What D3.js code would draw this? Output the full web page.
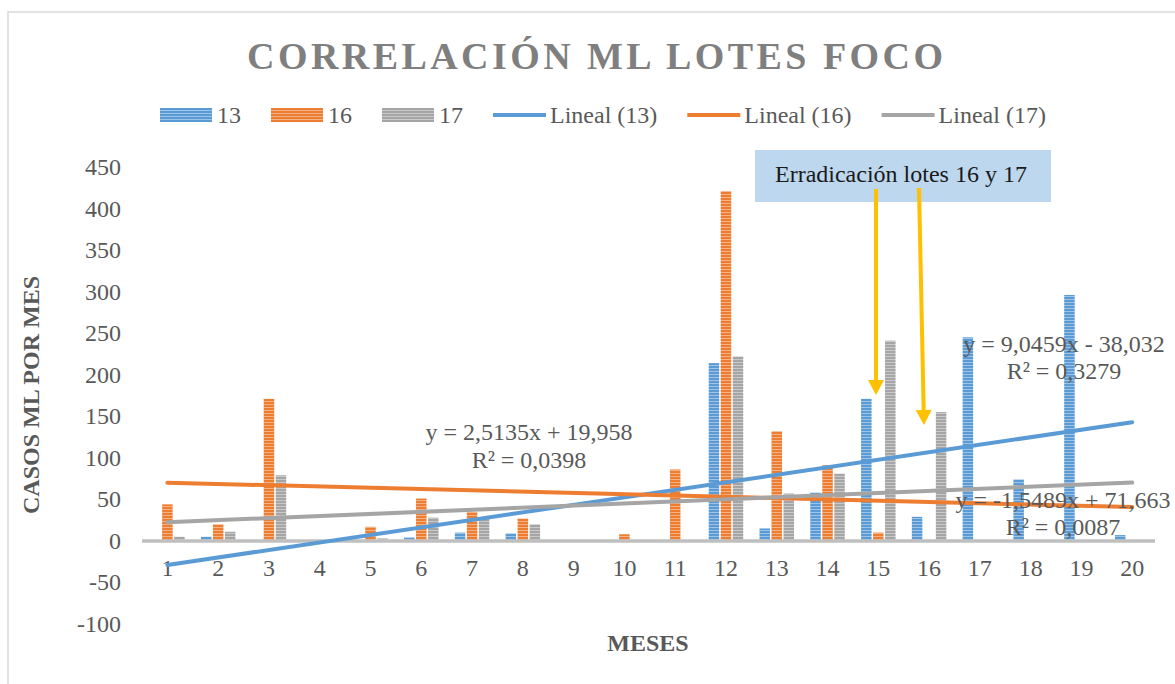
<!DOCTYPE html>
<html><head><meta charset="utf-8">
<script src="https://cdn.jsdelivr.net/npm/d3@7/dist/d3.min.js"></script>
<style>body{margin:0;background:#fff}svg{display:block}text{font-family:"Liberation Serif","Times New Roman",serif}</style>
</head><body>
<svg id="c" width="1175" height="684"></svg>
<script>
const months = ["1","2","3","4","5","6","7","8","9","10","11","12","13","14","15","16","17","18","19","20"];
const seriesNames = ["13","16","17"];
const s13 = [1,5,0,0,0,4,10,9,0,0,0,214,15,58,171,29,245,74,296,7];
const s16 = [44,20,171,1,17,51,35,27,0,8,86,421,132,91,10,0,0,0,0,0];
const s17 = [5,11,79,0,3,28,27,20,0,0,0,222,57,81,241,155,0,0,0,0];
const trendSlopes = [9.0459,-1.5489,2.5135];
const trendIntercepts = [-38.032,71.663,19.958];
const trendEqTexts = ["y = 9,0459x - 38,032","y = -1,5489x + 71,663","y = 2,5135x + 19,958"];
const trendR2Texts = ["R² = 0,3279","R² = 0,0087","R² = 0,0398"];
const yTicks = [-100,-50,0,50,100,150,200,250,300,350,400,450];
const legendLabels = ["13","16","17","Lineal (13)","Lineal (16)","Lineal (17)"];
const titleText = "CORRELACIÓN ML LOTES FOCO";
const annotationText = "Erradicación lotes 16 y 17";

const colors = ["#5b9bd5","#ed7d31","#a5a5a5"];
const lightColors = ["#9dc3e6","#f4b183","#c9c9c9"];
const svg = d3.select("#c");
const values = [s13,s16,s17];

// patterns
const defs = svg.append("defs");
colors.forEach((c,i)=>{
  const p = defs.append("pattern").attr("id","pat"+i).attr("patternUnits","userSpaceOnUse").attr("width",4).attr("height",3);
  p.append("rect").attr("width",4).attr("height",3).attr("fill",c);
  p.append("rect").attr("y",2).attr("width",4).attr("height",1).attr("fill",lightColors[i]);
});

// border
svg.append("rect").attr("x",8).attr("y",12).attr("width",1300).attr("height",800)
  .attr("fill","none").attr("stroke","#d9d9d9").attr("stroke-width",1.5);

const x = d3.scaleBand().domain(months).range([142,1157.6]).padding(0);
const x1 = d3.scaleBand().domain(seriesNames).range([-18,18]).paddingInner(0.125).paddingOuter(0.0625);
const y = d3.scaleLinear().domain([-100,450]).range([624,167]);

// title
const title = svg.append("text").attr("x",595).attr("y",69).attr("text-anchor","middle")
  .attr("font-size",38).attr("font-weight","bold").attr("fill","#7f7f7f").text(titleText);
{
  const target = 696; const n = titleText.length;
  const w0 = title.node().getComputedTextLength();
  const ls = (target - w0)/(n-1);
  title.style("letter-spacing", ls+"px").attr("text-anchor","start").attr("x",595-target/2);
}

// legend
let lx = 160;
legendLabels.forEach((lab,i)=>{
  if(i<3){
    svg.append("rect").attr("x",lx).attr("y",108).attr("width",52).attr("height",14).attr("fill","url(#pat"+i+")");
  } else {
    svg.append("line").attr("x1",lx).attr("x2",lx+53).attr("y1",115).attr("y2",115)
      .attr("stroke",colors[i-3]).attr("stroke-width",4);
  }
  const t = svg.append("text").attr("x",lx+57).attr("y",123).attr("font-size",24).attr("fill","#595959").text(lab);
  lx = lx + 57 + t.node().getComputedTextLength() + 30;
});

// y axis labels
svg.append("g").selectAll("text").data(yTicks).join("text")
  .attr("x",121).attr("y",d=>y(d)+8).attr("text-anchor","end").attr("font-size",24).attr("fill","#595959").text(d=>d);

// bars
const g = svg.append("g");
months.forEach((m,mi)=>{
  seriesNames.forEach((s,si)=>{
    const v = values[si][mi];
    if(v<=0) return;
    g.append("rect").attr("x",x(m)+x.bandwidth()/2+x1(s)).attr("width",x1.bandwidth())
      .attr("y",y(v)).attr("height",y(0)-y(v)).attr("fill","url(#pat"+si+")");
  });
});

// axis line
svg.append("line").attr("x1",142).attr("x2",1155).attr("y1",y(0)).attr("y2",y(0)).attr("stroke","#bfbfbf").attr("stroke-width",3.5);

// x labels
svg.append("g").selectAll("text").data(months).join("text")
  .attr("x",d=>x(d)+x.bandwidth()/2).attr("y",576).attr("text-anchor","middle").attr("font-size",24).attr("fill","#595959").text(d=>d);

// trend lines
const xc = n => x(String(n))+x.bandwidth()/2;
trendSlopes.forEach((a,i)=>{
  const b = trendIntercepts[i];
  svg.append("line").attr("x1",xc(1)).attr("x2",xc(20)).attr("y1",y(a*1+b)).attr("y2",y(a*20+b))
    .attr("stroke",colors[i]).attr("stroke-width",4).attr("stroke-linecap","round");
});

// trend labels
const eqPos = [[1064,352,379],[1063,508,535],[529,440,468]];
eqPos.forEach((p,i)=>{
  svg.append("text").attr("x",p[0]).attr("y",p[1]).attr("text-anchor","middle").attr("font-size",24).attr("fill","#595959").text(trendEqTexts[i]);
  svg.append("text").attr("x",p[0]).attr("y",p[2]).attr("text-anchor","middle").attr("font-size",24).attr("fill","#595959").text(trendR2Texts[i]);
});

// axis titles
svg.append("text").attr("transform","translate(39,395) rotate(-90)").attr("text-anchor","middle")
  .attr("font-size",24).attr("font-weight","bold").attr("fill","#595959").text("CASOS ML POR MES");
svg.append("text").attr("x",648).attr("y",651).attr("text-anchor","middle")
  .attr("font-size",24).attr("font-weight","bold").attr("fill","#595959").text("MESES");

// annotation
svg.append("rect").attr("x",755).attr("y",150).attr("width",296).attr("height",52).attr("fill","#bdd7ee");
svg.append("text").attr("x",775).attr("y",182).attr("font-size",24).attr("fill","#1a1a1a").text(annotationText);

// arrows
const arrowStarts = [[876,189,395],[919,188,425]];
const arrowTipX = [876,924];
arrowStarts.forEach((a,i)=>{
  const x0=a[0], y0=a[1], x2=arrowTipX[i], y2=a[2];
  const ang = Math.atan2(y2-y0,x2-x0);
  const L=15, W=8;
  const bx = x2 - L*Math.cos(ang), by = y2 - L*Math.sin(ang);
  svg.append("line").attr("x1",x0).attr("y1",y0).attr("x2",bx).attr("y2",by).attr("stroke","#ffc000").attr("stroke-width",4);
  const px = -Math.sin(ang), py = Math.cos(ang);
  svg.append("path").attr("d",`M${x2},${y2}L${bx+W*px},${by+W*py}L${bx-W*px},${by-W*py}Z`).attr("fill","#ffc000");
});
</script>
</body></html>
